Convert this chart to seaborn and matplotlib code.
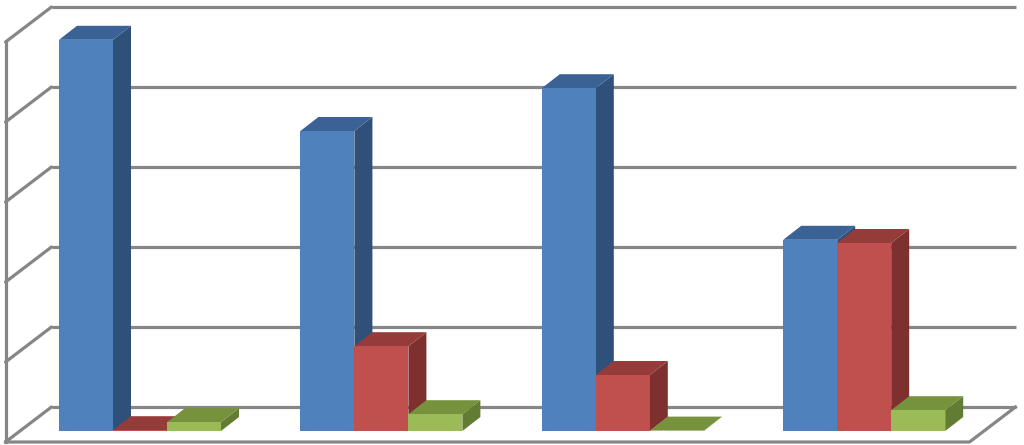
# 3D style clustered columns, the way a spreadsheet draws them
import matplotlib
matplotlib.use("Agg")
import matplotlib.pyplot as plt
from matplotlib.patches import Polygon
import pandas as pd
import seaborn as sns

# Values (each grid step is 20)
categories = ["A", "B", "C", "D"]
series_1 = [97.8, 75.0, 85.7, 47.8]
series_2 = [0.2, 21.2, 14.0, 47.0]
series_3 = [2.2, 4.2, 0.1, 5.2]
grid_values = [0, 20, 40, 60, 80, 100]

# Front, top and side shades for each series
front_colors = ["#4F81BD", "#C0504D", "#9BBB59"]
top_colors = ["#3A6295", "#953B39", "#76923C"]
side_colors = ["#2F5078", "#7E302E", "#637C33"]
wall_color = "#868686"

df = pd.DataFrame({
    "category": categories * 3,
    "value": series_1 + series_2 + series_3,
    "series": ["S1"] * 4 + ["S2"] * 4 + ["S3"] * 4,
})

sns.set_style("white")
fig = plt.figure(figsize=(10.24, 4.45), dpi=100)
ax = fig.add_axes([0, 0, 1, 1])

sns.barplot(data=df, x="category", y="value", hue="series", order=categories,
            palette=front_colors, width=0.671, gap=0, legend=False,
            saturation=1, linewidth=0, ax=ax)

# One category is 241.4 px wide, one value unit is 4 px high
ax.set_xlim(-140 / 241.4, (1024 - 140) / 241.4)
ax.set_ylim(-14 / 4, 431 / 4)
ax.axis("off")

px_x = 1 / 241.4
px_y = 1 / 4

# Depth of the bars and of the floor
bar_dx, bar_dy = 18 * px_x, 14 * px_y
wall_dx, wall_dy = 46 * px_x, 35 * px_y
back_y = 24 * px_y
left = 5.5 * px_x - 140 / 241.4
right = left + 964 * px_x

# Walls: back lines, slanted lines on the left wall, floor
for v in grid_values:
    ax.plot([left + wall_dx, right + wall_dx], [v + back_y, v + back_y],
            color=wall_color, lw=2.3, zorder=1, solid_capstyle="butt")
    ax.plot([left, left + wall_dx], [v + back_y - wall_dy, v + back_y],
            color=wall_color, lw=2.3, zorder=1)
ax.plot([left, left], [back_y - wall_dy, grid_values[-1] + back_y - wall_dy],
        color=wall_color, lw=2.3, zorder=1, solid_capstyle="projecting")
ax.plot([left, right, right + wall_dx],
        [back_y - wall_dy, back_y - wall_dy, back_y],
        color=wall_color, lw=2.3, zorder=1, solid_capstyle="projecting")

# Add the top and side of each bar, left to right so the nearer ones cover
bars = list(ax.patches)
colour_index = [i for i in range(3) for _ in categories]
order = sorted(range(len(bars)), key=lambda n: bars[n].get_x())
z = 2
for n in order:
    bar = bars[n]
    i = colour_index[n]
    x0, x1 = bar.get_x(), bar.get_x() + bar.get_width()
    h = bar.get_height()
    ax.add_patch(Polygon([(x1, 0), (x1 + bar_dx, bar_dy), (x1 + bar_dx, h + bar_dy), (x1, h)],
                         facecolor=side_colors[i], edgecolor="none", zorder=z))
    ax.add_patch(Polygon([(x0, h), (x0 + bar_dx, h + bar_dy), (x1 + bar_dx, h + bar_dy), (x1, h)],
                         facecolor=top_colors[i], edgecolor="none", zorder=z))
    bar.set_zorder(z + 1)
    z += 2

fig.savefig("out.png", dpi=100, facecolor="white")
